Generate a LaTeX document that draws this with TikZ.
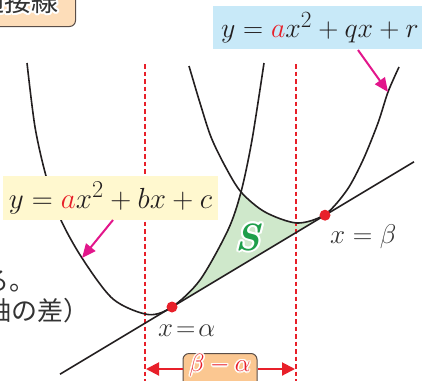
\documentclass[tikz,border=0pt]{standalone}
\usepackage{fontspec}
\usepackage{graphicx}
\newfontfamily\jpfont{Noto Sans CJK JP}
\usetikzlibrary{arrows.meta}
\definecolor{curvecol}{HTML}{231F20}
\definecolor{redc}{HTML}{E8202A}
\definecolor{magc}{HTML}{E2168B}
\definecolor{bluebg}{HTML}{C8E9F8}
\definecolor{yellowbg}{HTML}{FFF8CF}
\definecolor{greenfill}{HTML}{CFE8CB}
\definecolor{greenS}{HTML}{1F9E4A}
\definecolor{orangebg}{HTML}{FBC791}
\definecolor{tagbg}{HTML}{FDDDB9}
\definecolor{textgray}{HTML}{333333}
\definecolor{boxedge}{HTML}{5A4E48}
\newcommand{\halotext}[3]{%
  \leavevmode
  \foreach \haloang in {0,30,...,330}{%
    \pgfmathsetmacro\haloX{#2*cos(\haloang)}%
    \pgfmathsetmacro\haloY{#2*sin(\haloang)}%
    \rlap{\kern\haloX pt\raise\haloY pt\hbox{\color{white}#3}}}%
  \hbox{\color{#1}#3}}
\begin{document}
\begin{tikzpicture}[x=1pt,y=-1pt,
  curve/.style={line width=1.6pt, draw=curvecol},
  guide/.style={draw=redc, line width=1.8pt, dash pattern=on 4.5pt off 3pt},
  callout/.style={draw=magc, line width=2pt, -{Triangle[length=14pt,width=12pt]}},
  spanarrow/.style={draw=redc, line width=2pt, -{Triangle[length=13pt,width=13pt]}},
  eqbox/.style={inner sep=0pt, font=\fontsize{24.88}{30}\selectfont, text=curvecol},
  reddot/.style={circle, fill=redc, inner sep=0pt, minimum size=11pt},
  mathlabel/.style={inner sep=0pt, font=\fontsize{24.88}{30}\selectfont, text=textgray},
  jptext/.style={inner sep=0pt, font=\jpfont\fontsize{26}{30}\selectfont, text=textgray},
]
\useasboundingbox (0,0) rectangle (422,380);
\clip (0,0) rectangle (422,380);

\coordinate (lineL) at (60,374.2);
\coordinate (lineR) at (414,161.8);
\coordinate (gA1) at (145,64);
\coordinate (gA2) at (145,382);
\coordinate (gB1) at (296,64);
\coordinate (gB2) at (296,382);

% green region S
\begin{scope}
  \clip (lineL) -- (lineR) -- (422,0) -- (0,0) -- cycle;
  \begin{scope}[even odd rule]
  \clip (-5,-5) rectangle (430,390)
    plot[smooth] coordinates {(27,63) (35,127) (46,176) (60,218) (82,258) (113,299) (148,314.5) (172,307) (200,280) (228,230) (241,192) (252,140) (264,63)} -- cycle;
  \begin{scope}[even odd rule]
  \clip (-5,-5) rectangle (430,390)
    plot[smooth] coordinates {(189,66) (200,103) (211,137) (225,166) (241,192) (265,212) (297,223) (325,214.5) (347,190) (363,160) (378,123) (388,92) (399,67)} -- cycle;
  \fill[greenfill] (170,180) rectangle (330,320);
  \end{scope}
  \end{scope}
\end{scope}

% dashed guides
\draw[guide] (gA1) -- (gA2);
\draw[guide] (gB1) -- (gB2);

% parabolas and tangent line
\draw[curve] plot[smooth] coordinates {(27,63) (35,127) (46,176) (60,218) (82,258) (113,299) (148,314.5) (172,307) (200,280) (228,230) (241,192) (252,140) (264,63)};
\draw[curve] plot[smooth] coordinates {(189,66) (200,103) (211,137) (225,166) (241,192) (265,212) (297,223) (325,214.5) (347,190) (363,160) (378,123) (388,92) (399,67)};
\draw[curve] (lineL) -- (lineR);

% equation boxes
\node[eqbox, fill=yellowbg, minimum width=215pt, minimum height=44pt] (eqL) at (110.5,198)
  {\scalebox{1.17}{$y = {\color{redc}a}x^2 + bx + c$}};
\node[eqbox, fill=bluebg, minimum height=43pt, text width=205pt, inner xsep=8pt, align=left, anchor=north west] (eqR) at (213,6)
  {\scalebox{1.12}{$y = {\color{redc}a}x^2 + qx + r$}};

% title tag
\node[draw=boxedge, line width=1pt, fill=tagbg, rounded corners=6pt, anchor=south east,
      inner xsep=17pt, inner ysep=12pt, text height=24pt, text depth=3pt,
      font=\jpfont\fontsize{27}{30}\selectfont] (tag) at (76,27)
  {\halotext{textgray}{1.8}{共通接線}};

% callout arrows
\coordinate (qArrS) at (358,50);
\coordinate (qArrE) at (388,92);
\coordinate (bArrS) at (113,220);
\coordinate (bArrE) at (82,258);
\draw[callout] (qArrS) -- (qArrE);
\draw[callout] (bArrS) -- (bArrE);

% tangent points
\node[reddot] (A) at (172,307) {};
\node[reddot] (B) at (325,215.2) {};

% labels
\node[mathlabel, anchor=base west] (alab) at (158,336) {\scalebox{1.08}{$x\mskip2mu{=}\mskip2mu\alpha$}};
\node[mathlabel, anchor=base west] (blab) at (330,243) {\scalebox{1.09}{$x = \beta$}};
\node[inner sep=0pt, font=\fontsize{38}{42}\selectfont\bfseries\itshape] (S) at (248,237)
  {\halotext{greenS}{2}{S}};

% beta - alpha span
\node[draw=boxedge, line width=1pt, fill=orangebg, rounded corners=6pt, anchor=north,
      minimum width=74pt, inner xsep=0pt, inner ysep=1pt, text height=17pt, text depth=19pt,
      font=\fontsize{24}{28}\selectfont] (span) at (220,353)
  {\halotext{redc}{1.5}{$\beta-\alpha$}};
\coordinate (spanL) at (146,369);
\coordinate (spanR) at (295,369);
\draw[spanarrow] (span.west |- spanL) -- (spanL);
\draw[spanarrow] (span.east |- spanR) -- (spanR);

% cut-off explanatory text at the left edge
\node[jptext, anchor=base west] (note1) at (-17,290) {る。};
\node[jptext, anchor=base west] (note2) at (-15,320) {軸の差）};
\end{tikzpicture}
\end{document}
